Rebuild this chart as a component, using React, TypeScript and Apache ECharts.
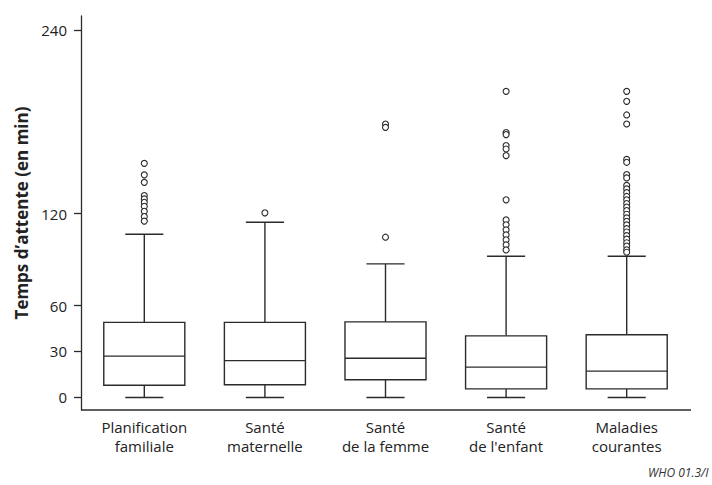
import React, { useEffect, useRef } from "react";
import * as echarts from "echarts";

// Service categories (x axis)
const categories = [
  "Planification\nfamiliale",
  "Santé\nmaternelle",
  "Santé\nde la femme",
  "Santé\nde l'enfant",
  "Maladies\ncourantes",
];

// Five-number summaries per category (minutes)
const whiskerLow = [0, 0, 0, 0, 0];
const quartile1 = [8, 8.3, 11.5, 5.6, 5.6];
const medians = [27, 24, 25.6, 19.8, 17.2];
const quartile3 = [49, 49, 49.3, 40.2, 40.9];
const whiskerHigh = [106.5, 114.4, 87.2, 92.2, 92.2];

// Outlying waiting times per category
const outliersPlanification = [152.8, 145.3, 140.4, 131.8, 129.6, 127.4, 124.8, 121.5, 118.1, 115.1];
const outliersMaternelle = [120.5];
const outliersFemme = [178.5, 176.3, 104.6];
const outliersEnfant = [199.8, 172.9, 171.6, 164.4, 162.2, 157.9, 129, 115.9, 112.7, 109.4, 106.1, 102.9, 99.6, 96.3];
const outliersMaladies = [
  199.8, 193.3, 184.4, 178.5, 155.4, 153.5, 145.5, 143.3,
  138.4, 136.1, 133.7, 131.2, 129, 126.6, 124.3, 122, 119.6, 117.2,
  115, 112.6, 110.2, 108, 105.6, 103.3, 101, 98.8, 96.4, 94.8,
];

// Y-axis tick labels
const yTicks = [0, 30, 60, 120, 240];

const outlierGroups = [
  outliersPlanification,
  outliersMaternelle,
  outliersFemme,
  outliersEnfant,
  outliersMaladies,
];

const INK = "#2b2b2b";
const FONT = "'Open Sans', 'DejaVu Sans', sans-serif";

export default function App() {
  const ref = useRef<HTMLDivElement>(null);

  useEffect(() => {
    document.body.style.margin = "0";
    if (!ref.current) return;
    const chart = echarts.init(ref.current, undefined, { renderer: "svg" });

    const boxData = categories.map((_, i) => [
      i,
      whiskerLow[i],
      quartile1[i],
      medians[i],
      quartile3[i],
      whiskerHigh[i],
    ]);
    const outlierData: number[][] = [];
    outlierGroups.forEach((g, i) => g.forEach((v) => outlierData.push([i, v])));

    chart.setOption({
      animation: false,
      grid: { left: 84, right: 25, top: 16, bottom: 75 },
      xAxis: {
        type: "category",
        data: categories,
        axisLine: { show: false },
        axisTick: { show: false },
        axisLabel: {
          interval: 0,
          margin: 7,
          color: "#222",
          fontFamily: FONT,
          fontSize: 15,
          lineHeight: 19,
        },
        splitLine: { show: false },
      },
      yAxis: {
        type: "value",
        min: -8.2,
        max: 249,
        offset: 3,
        name: "Temps d’attente (en min)",
        nameLocation: "middle",
        nameRotate: 90,
        nameGap: 51,
        nameTextStyle: {
          color: "#222",
          fontFamily: FONT,
          fontSize: 17,
          fontWeight: "bold",
        },
        axisLine: { show: true, lineStyle: { color: INK, width: 1.3 } },
        axisTick: {
          show: true,
          length: 7,
          customValues: yTicks,
          lineStyle: { color: INK, width: 1.3 },
        },
        axisLabel: {
          customValues: yTicks,
          margin: 14,
          color: "#222",
          fontFamily: FONT,
          fontSize: 15,
        },
        splitLine: { show: false },
      },
      series: [
        {
          type: "custom",
          data: boxData,
          encode: { x: 0, y: [1, 2, 3, 4, 5] },
          z: 2,
          renderItem: (params: any, api: any) => {
            const idx = api.value(0);
            const pt = (k: number) => api.coord([idx, api.value(k)]);
            const [cx, yLow] = pt(1);
            const yQ1 = pt(2)[1];
            const yMed = pt(3)[1];
            const yQ3 = pt(4)[1];
            const yHigh = pt(5)[1];
            const band = api.size([1, 0])[0];
            const half = band * 0.336;
            const capHalf = band * 0.158;
            const st = { stroke: INK, lineWidth: 1.4, fill: null };
            return {
              type: "group",
              children: [
                { type: "line", shape: { x1: cx, y1: yHigh, x2: cx, y2: yQ3 }, style: st },
                { type: "line", shape: { x1: cx, y1: yQ1, x2: cx, y2: yLow }, style: st },
                { type: "line", shape: { x1: cx - capHalf, y1: yHigh, x2: cx + capHalf, y2: yHigh }, style: st },
                { type: "line", shape: { x1: cx - capHalf, y1: yLow, x2: cx + capHalf, y2: yLow }, style: st },
                {
                  type: "rect",
                  shape: { x: cx - half, y: yQ3, width: half * 2, height: yQ1 - yQ3 },
                  style: { stroke: INK, lineWidth: 1.4, fill: "#fff" },
                },
                { type: "line", shape: { x1: cx - half, y1: yMed, x2: cx + half, y2: yMed }, style: st },
              ],
            };
          },
        },
        {
          type: "scatter",
          data: outlierData,
          z: 3,
          symbol: "circle",
          symbolSize: 6,
          itemStyle: { color: "#fff", borderColor: INK, borderWidth: 1.1, opacity: 1 },
        },
      ],
      graphic: [
        // baseline of the category axis, running from the value axis to the right edge of the plot
        {
          type: "line",
          shape: { x1: 81, y1: 410, x2: 691, y2: 410 },
          style: { stroke: INK, lineWidth: 1.3 },
        },
        {
          type: "text",
          left: 648,
          top: 466,
          style: {
            text: "WHO 01.3/I",
            fill: "#333",
            font: `italic 12px ${FONT}`,
          },
        },
      ],
    });

    return () => chart.dispose();
  }, []);

  return <div ref={ref} style={{ width: 712, height: 485 }} />;
}
